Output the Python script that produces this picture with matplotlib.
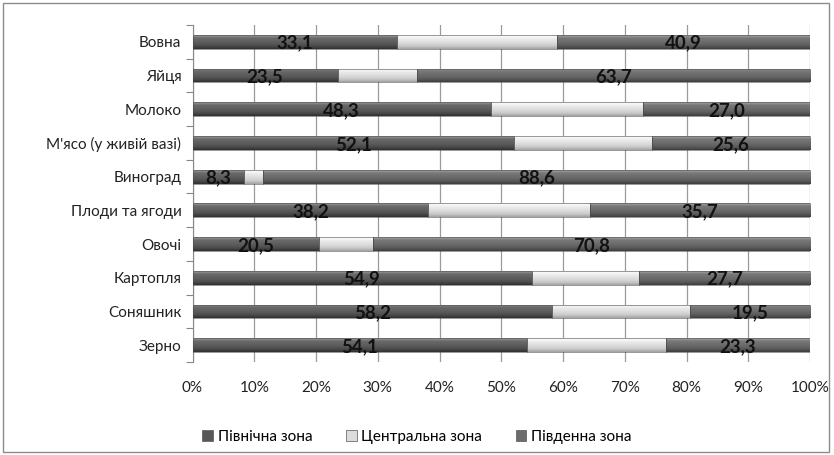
import matplotlib
matplotlib.use("Agg")
import matplotlib.pyplot as plt
import numpy as np
from matplotlib.colors import LinearSegmentedColormap
from matplotlib.patches import Patch, Rectangle

plt.rcParams['font.family'] = ['Lato', 'DejaVu Sans']

categories = ["Вовна", "Яйця", "Молоко", "М'ясо (у живій вазі)", "Виноград",
              "Плоди та ягоди", "Овочі", "Картопля", "Соняшник", "Зерно"]
north = [33.1, 23.5, 48.3, 52.1, 8.3, 38.2, 20.5, 54.9, 58.2, 54.1]
central = [26.0, 12.8, 24.7, 22.3, 3.1, 26.1, 8.7, 17.4, 22.3, 22.6]
south = [40.9, 63.7, 27.0, 25.6, 88.6, 35.7, 70.8, 27.7, 19.5, 23.3]
series_names = ["Північна зона", "Центральна зона", "Південна зона"]
tick_labels = ["0%", "10%", "20%", "30%", "40%", "50%", "60%", "70%", "80%", "90%", "100%"]

fig = plt.figure(figsize=(8.34, 4.55), dpi=100)
ax = fig.add_axes([192.5/834, (455-362)/455, (810-192.5)/834, 337/455])

y = np.arange(len(categories))[::-1]
h = 0.41

grads = [
    ["#2e2e2e", "#4a4a4a", "#585858", "#626262", "#6a6a6a", "#a0a0a0"],
    ["#a0a0a0", "#c8c8c8", "#d8d8d8", "#e4e4e4", "#f0f0f0", "#ffffff"],
    ["#3c3c3c", "#585858", "#666666", "#707070", "#787878", "#aaaaaa"],
]
base = ["#585858", "#dcdcdc", "#6c6c6c"]

left = np.zeros(len(categories))
all_vals = [north, central, south]
for k, vals in enumerate(all_vals):
    vals = np.array(vals)
    bars = ax.barh(y, vals, left=left, height=h, color=base[k], edgecolor="none", zorder=3)
    cmap = LinearSegmentedColormap.from_list("g%d" % k, grads[k])
    grad = np.linspace(0, 1, 64).reshape(-1, 1)
    for b in bars:
        x0, y0, w, hh = b.get_x(), b.get_y(), b.get_width(), b.get_height()
        im = ax.imshow(grad, cmap=cmap, aspect="auto", origin="lower",
                       extent=[x0, x0 + w, y0, y0 + hh], zorder=3.5, interpolation="bicubic")
        im.set_clip_path(b)
        ax.add_patch(Rectangle((x0, y0), w, hh, fill=False, edgecolor="#4a4a4a",
                               linewidth=0.4, zorder=3.6))
    if k != 1:
        for yi, l, v in zip(y, left, vals):
            ax.text(l + v / 2, yi - 0.04, ("%.1f" % v).replace(".", ","), ha="center", va="center",
                    fontsize=13.5, fontweight="bold", color="#111111", zorder=5)
    left = left + vals

ax.set_xlim(0, 100)
ax.set_ylim(-0.5, len(categories) - 0.5)
ax.set_xticks(np.arange(0, 101, 10))
ax.set_xticklabels(tick_labels, fontsize=11, color="#222222")
ax.set_yticks(y)
ax.set_yticklabels(categories, fontsize=11, color="#222222")
ax.set_yticks(np.arange(-0.5, len(categories), 1), minor=True)
ax.tick_params(axis="y", which="major", length=0, pad=8)
ax.tick_params(axis="y", which="minor", length=5, color="#888888", width=0.8)
ax.tick_params(axis="x", length=0, pad=14)
ax.xaxis.grid(True, color="#9a9a9a", linewidth=0.9, zorder=0)
ax.set_axisbelow(True)
for s in ["top", "right", "bottom"]:
    ax.spines[s].set_visible(False)
ax.spines["left"].set_color("#888888")
ax.spines["left"].set_linewidth(0.8)

handles = [Patch(facecolor=base[i], edgecolor="#555555", linewidth=0.5) for i in range(3)]
fig.legend(handles, series_names, loc="center", bbox_to_anchor=(0.5, (455-437)/455),
           ncol=3, frameon=False, fontsize=11, handlelength=0.7, handleheight=0.7,
           handletextpad=0.3, columnspacing=2.2)

fig.patches.append(Rectangle((3/834, 3/455), 826/834, 449/455, transform=fig.transFigure,
                             fill=False, edgecolor="#8c8c8c", linewidth=1.0))

fig.savefig("out.png", dpi=100)
